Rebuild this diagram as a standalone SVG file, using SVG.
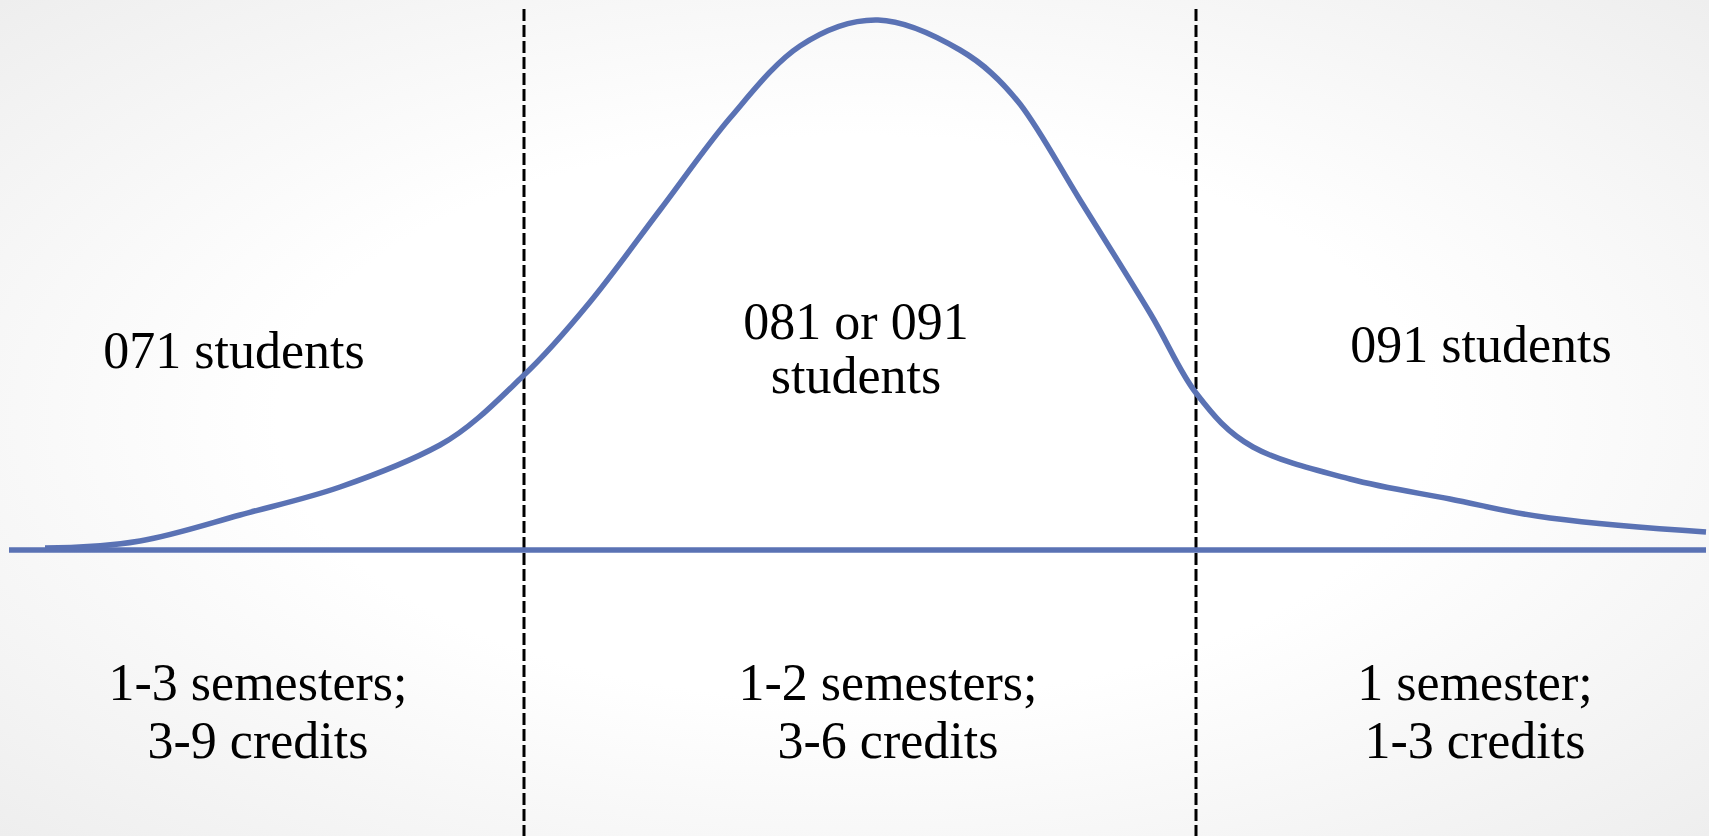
<svg xmlns="http://www.w3.org/2000/svg" width="1709" height="836" viewBox="0 0 1709 836">
<defs>
<radialGradient id="bg" cx="50%" cy="50%" r="75%">
<stop offset="0.45" stop-color="#ffffff"/>
<stop offset="1" stop-color="#ececec"/>
</radialGradient>
<style>
.lbl{font-family:"Liberation Serif","Times New Roman",serif;font-size:52px;fill:#000;text-anchor:middle}
.curve{fill:none;stroke:#5a72b4;stroke-width:5.5;stroke-linecap:butt}
.div{stroke:#000;stroke-width:3;stroke-dasharray:12 4;fill:none}
</style>
</defs>
<rect width="1709" height="836" fill="url(#bg)"/>
<g id="connectors">
<line class="div" x1="524" y1="9" x2="524" y2="836"/>
<line class="div" x1="1196" y1="9" x2="1196" y2="836"/>
<line class="curve" x1="9" y1="550" x2="1706" y2="550"/>
<path class="curve" d="M45,548 C77,548 107.5,546.5 140,541 C172.5,535.5 206.7,524.2 240,515 C273.3,505.8 307,498.5 340,487 C373,475.5 407,463 440,445 C471,428 498,400 523,376 C548,352.5 567.2,329.7 590,302 C612.8,274.3 636.7,240.7 660,210 C683.3,179.3 706.7,145.3 730,118 C753.3,90.7 775.3,62.3 800,46 C824.7,29.7 851.3,19.3 878,20 C904.7,20.7 936.3,36.2 960,50 C983.7,63.8 1001,80 1020,104 C1040,130 1058.3,165 1080,200 C1101.7,235 1130.7,280.8 1150,313 C1169.3,345.2 1178.8,370.7 1196,393 C1213.2,415.3 1227.3,432.7 1253,447 C1278.7,461.3 1317.2,470.3 1350,479 C1382.8,487.7 1416.7,492.5 1450,499 C1483.3,505.5 1507.3,512.5 1550,518 C1592.7,523.5 1661,529 1706,532"/>
</g>
<g id="region-071">
<text class="lbl" x="234" y="368">071 students</text>
<text class="lbl" x="258" y="700">1-3 semesters;</text>
<text class="lbl" x="258" y="758">3-9 credits</text>
</g>
<g id="region-081-091">
<text class="lbl" x="856" y="339">081 or 091</text>
<text class="lbl" x="856" y="393">students</text>
<text class="lbl" x="888" y="700">1-2 semesters;</text>
<text class="lbl" x="888" y="758">3-6 credits</text>
</g>
<g id="region-091">
<text class="lbl" x="1481" y="362">091 students</text>
<text class="lbl" x="1475" y="700">1 semester;</text>
<text class="lbl" x="1475" y="758">1-3 credits</text>
</g>
</svg>
